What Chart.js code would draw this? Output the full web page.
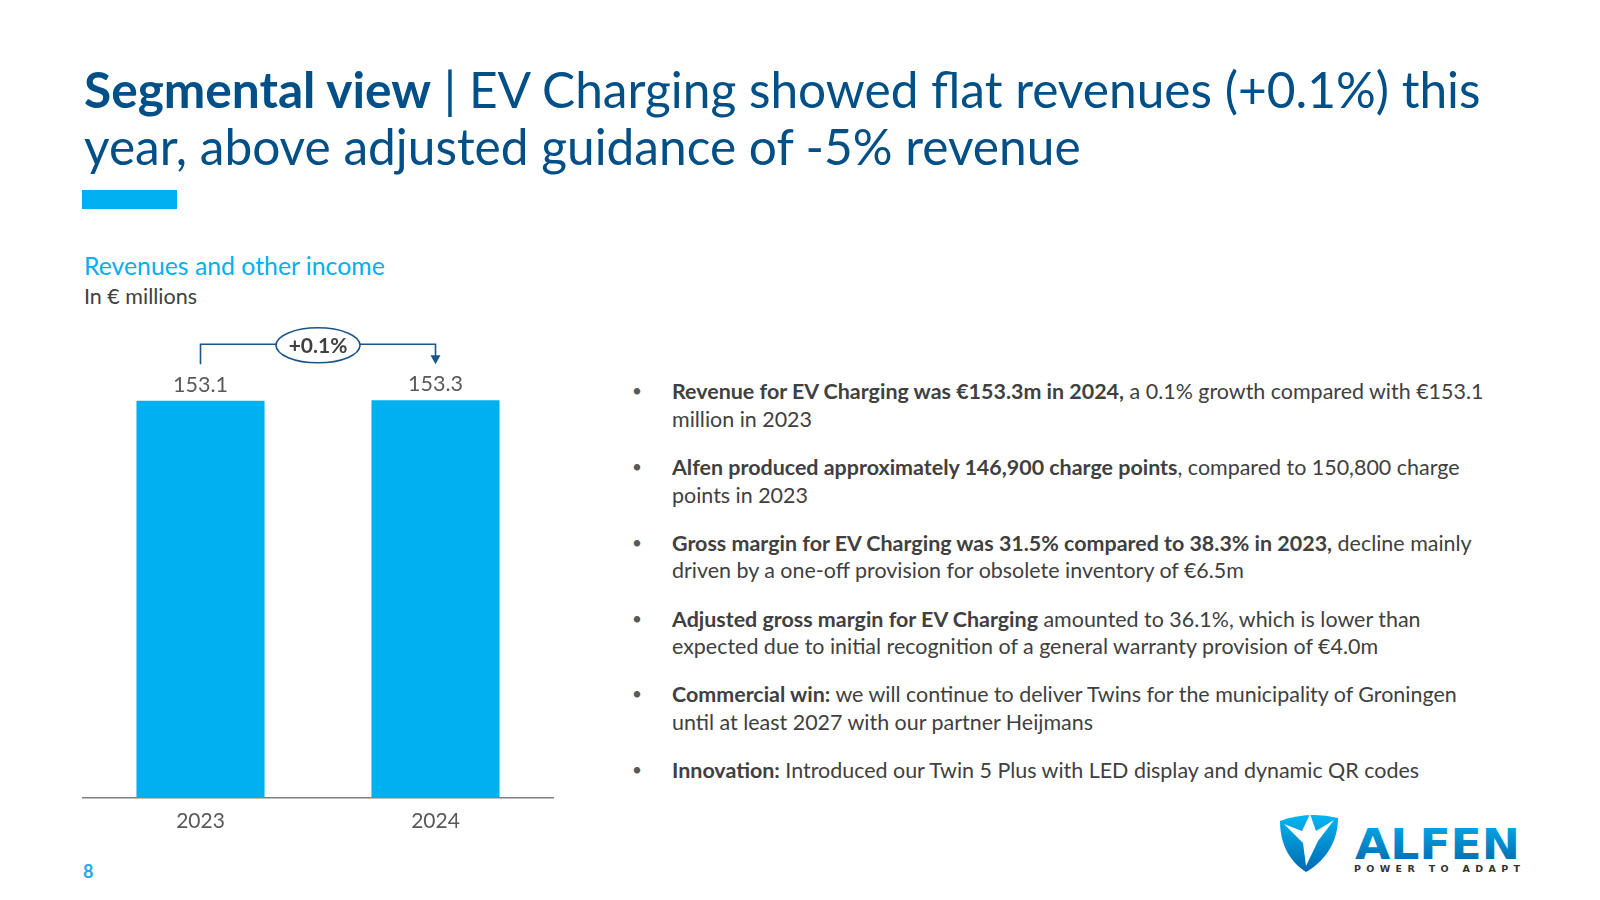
<!DOCTYPE html>
<html>
<head>
<meta charset="utf-8">
<script src="https://cdn.jsdelivr.net/npm/chart.js@4.4.1/dist/chart.umd.min.js"></script>
<style>
  html, body { margin:0; padding:0; background:#fff; }
  body { width:1600px; height:900px; position:relative; overflow:hidden; font-family: Lato, "Open Sans", sans-serif; }
  .ln { position:absolute; white-space:nowrap; line-height:1; }
  .title { color:#005087; font-size:48px; }
  .title b { font-weight:700; }
  .sub1 { color:#00b0f0; font-size:24px; }
  .sub2 { color:#404040; font-size:20px; }
  .bl { color:#404040; font-size:20px; }
  .bl b { font-weight:700; }
  .dot { position:absolute; left:-40px; top:1px; color:#595959; font-size:0.8em; }
  #accent { position:absolute; left:82px; top:190px; width:95px; height:19px; background:#00b0f0; }
  #pg { position:absolute; left:83px; top:862px; font-weight:700; font-size:18px; color:#1fa9ee; line-height:1; }
  #chartWrap { position:absolute; left:0; top:300px; width:600px; height:560px; }
  #logo { position:absolute; left:1275px; top:805px; }
</style>
</head>
<body>
<div id="accent"></div>

<div class="ln title" id="t1"><b>Segmental view</b> | EV Charging showed flat revenues (+0.1%) this</div>
<div class="ln title" id="t2">year, above adjusted guidance of -5% revenue</div>

<div class="ln sub1" id="s1">Revenues and other income</div>
<div class="ln sub2" id="s2">In € millions</div>

<div class="ln bl" data-p="0" data-l="0"><span class="dot">•</span><b>Revenue for EV Charging was €153.3m in 2024,</b> a 0.1% growth compared with €153.1</div>
<div class="ln bl" data-p="0" data-l="1">million in 2023</div>
<div class="ln bl" data-p="1" data-l="0"><span class="dot">•</span><b>Alfen produced approximately 146,900 charge points</b>, compared to 150,800 charge</div>
<div class="ln bl" data-p="1" data-l="1">points in 2023</div>
<div class="ln bl" data-p="2" data-l="0"><span class="dot">•</span><b>Gross margin for EV Charging was 31.5% compared to 38.3% in 2023,</b> decline mainly</div>
<div class="ln bl" data-p="2" data-l="1">driven by a one-off provision for obsolete inventory of €6.5m</div>
<div class="ln bl" data-p="3" data-l="0"><span class="dot">•</span><b>Adjusted gross margin for EV Charging</b> amounted to 36.1%, which is lower than</div>
<div class="ln bl" data-p="3" data-l="1">expected due to initial recognition of a general warranty provision of €4.0m</div>
<div class="ln bl" data-p="4" data-l="0"><span class="dot">•</span><b>Commercial win:</b> we will continue to deliver Twins for the municipality of Groningen</div>
<div class="ln bl" data-p="4" data-l="1">until at least 2027 with our partner Heijmans</div>
<div class="ln bl" data-p="5" data-l="0"><span class="dot">•</span><b>Innovation:</b> Introduced our Twin 5 Plus with LED display and dynamic QR codes</div>

<div id="pg">8</div>

<div id="chartWrap"><canvas id="c" width="600" height="560"></canvas></div>

<svg id="logo" width="250" height="75" viewBox="0 0 250 75">
  <defs>
    <linearGradient id="gShield" x1="0" y1="0" x2="0" y2="1">
      <stop offset="0" stop-color="#00b6f1"/>
      <stop offset="1" stop-color="#0068b0"/>
    </linearGradient>
    <linearGradient id="gText" x1="0" y1="0" x2="0" y2="1">
      <stop offset="0" stop-color="#00aeef"/>
      <stop offset="1" stop-color="#0063a6"/>
    </linearGradient>
  </defs>
  <path d="M5,16 Q34,6 63,13 C63,40 47,58 31,67 C17,58 5,42 5,16 Z" fill="url(#gShield)"/>
  <path d="M35,9 L41,26 L59,15 L43,36 L31,61 L28,38 L9,19 L27,26 Z" fill="#fff"/>
  <text x="80" y="54" font-family="DejaVu Sans" font-weight="700" font-size="42" fill="url(#gText)" textLength="165" lengthAdjust="spacingAndGlyphs">ALFEN</text>
  <text x="79" y="67" font-family="DejaVu Sans" font-weight="700" font-size="9.5" fill="#333" textLength="166" lengthAdjust="spacing">POWER TO ADAPT</text>
</svg>

<script>
// ---- chart data ----
const categories = ['2023', '2024'];
const revenues = [153.1, 153.3];
const yMin = 0;
const yMax = 180;

const growthLabel = (revenues[1] >= revenues[0] ? '+' : '') +
  ((revenues[1] / revenues[0] - 1) * 100).toFixed(1) + '%';

// ---- layout helpers for text lines ----
function place(el, x, baseline, fs) {
  el.style.fontSize = fs + 'px';
  el.style.left = x + 'px';
  el.style.top = (baseline - 0.887 * fs) + 'px';
}
function fitSize(el, target) {
  const w = el.getBoundingClientRect().width;
  const fs = parseFloat(getComputedStyle(el).fontSize);
  return fs * target / w;
}

const valueLabels = {
  id: 'valueLabels',
  afterDatasetsDraw(chart) {
    const ctx = chart.ctx;
    const meta = chart.getDatasetMeta(0);
    ctx.save();
    ctx.font = '21.5px Lato';
    ctx.fillStyle = '#595959';
    ctx.textAlign = 'center';
    ctx.textBaseline = 'middle';
    meta.data.forEach((bar, i) => {
      ctx.fillText(revenues[i].toFixed(1), bar.x, bar.y - 16);
    });
    // growth bracket
    const b0 = meta.data[0], b1 = meta.data[1];
    const topY = Math.min(b0.y, b1.y);
    const lineY = topY - 56;
    const stemBottom = topY - 36;
    ctx.strokeStyle = '#1b5587';
    ctx.lineWidth = 1.6;
    ctx.beginPath();
    ctx.moveTo(b0.x, stemBottom);
    ctx.lineTo(b0.x, lineY);
    ctx.lineTo(b1.x, lineY);
    ctx.lineTo(b1.x, stemBottom - 8);
    ctx.stroke();
    ctx.fillStyle = '#1b5587';
    ctx.beginPath();
    ctx.moveTo(b1.x - 5, stemBottom - 9);
    ctx.lineTo(b1.x + 5, stemBottom - 9);
    ctx.lineTo(b1.x, stemBottom);
    ctx.closePath();
    ctx.fill();
    const cx = (b0.x + b1.x) / 2;
    ctx.beginPath();
    ctx.ellipse(cx, lineY + 1, 42, 17.5, 0, 0, Math.PI * 2);
    ctx.fillStyle = '#fff';
    ctx.fill();
    ctx.stroke();
    ctx.fillStyle = '#404040';
    ctx.font = 'bold 21px Lato';
    ctx.fillText(growthLabel, cx, lineY + 2);
    ctx.restore();
  }
};

function build() {
  // title & subtitles
  const t1 = document.getElementById('t1');
  const tfs = fitSize(t1, 1397);
  place(t1, 84, 109, tfs);
  place(document.getElementById('t2'), 84, 166, tfs);
  const s1 = document.getElementById('s1');
  place(s1, 84, 276, fitSize(s1, 301));
  const s2 = document.getElementById('s2');
  place(s2, 84, 305, fitSize(s2, 113));
  // bullets
  const lines = document.querySelectorAll('.bl');
  const bfs = fitSize(lines[0], 812);
  lines.forEach(el => {
    const p = +el.dataset.p, l = +el.dataset.l;
    place(el, 672, 400.5 + p * 75.7 + l * 27.5, bfs);
  });

  Chart.defaults.font.family = 'Lato';
  new Chart(document.getElementById('c'), {
    type: 'bar',
    data: {
      labels: categories,
      datasets: [{
        data: revenues,
        backgroundColor: '#00b0f0',
        borderWidth: 0,
        categoryPercentage: 1,
        barPercentage: 0.545
      }]
    },
    options: {
      responsive: false,
      animation: false,
      layout: { padding: { left: 83, right: 47, top: 31, bottom: 22 } },
      plugins: { legend: { display: false }, tooltip: { enabled: false } },
      scales: {
        x: {
          grid: { display: false, drawTicks: false },
          border: { display: true, color: '#7f7f7f', width: 1.5 },
          ticks: { padding: 11, color: '#595959', font: { size: 21 } },
          afterFit(s) { s.height = 40; }
        },
        y: { display: false, min: yMin, max: yMax }
      }
    },
    plugins: [valueLabels]
  });
}

Promise.all([
  document.fonts.load('21px Lato'),
  document.fonts.load('bold 19px Lato'),
  document.fonts.load('bold 42px "DejaVu Sans"')
]).catch(() => {}).then(() => document.fonts.ready).then(build);
</script>
</body>
</html>
